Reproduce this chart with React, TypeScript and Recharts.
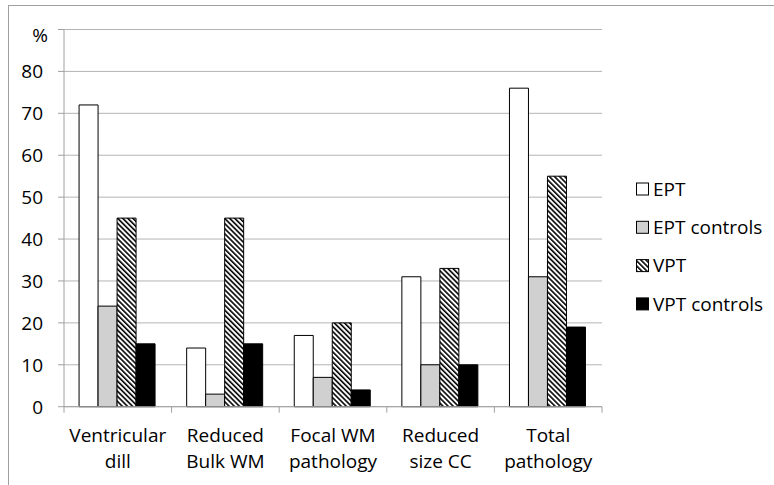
import React from "react";
import { BarChart, Bar, XAxis, YAxis, CartesianGrid, Legend } from "recharts";

const categories = [
  "Ventricular\ndill",
  "Reduced\nBulk WM",
  "Focal WM\npathology",
  "Reduced\nsize CC",
  "Total\npathology",
];
const eptValues = [72, 14, 17, 31, 76];
const eptControlValues = [24, 3, 7, 10, 31];
const vptValues = [45, 45, 20, 33, 55];
const vptControlValues = [15, 15, 4, 10, 19];
const yTicks = [0, 10, 20, 30, 40, 50, 60, 70, 80, 90];
const seriesKeys = ["ept", "eptControls", "vpt", "vptControls"];
const seriesNames = ["EPT", "EPT controls", "VPT", "VPT controls"];
const seriesFills = ["#ffffff", "#d0d0d0", "url(#vptStripes)", "#000000"];

const data = categories.map((c, i) => ({
  category: c,
  ept: eptValues[i],
  eptControls: eptControlValues[i],
  vpt: vptValues[i],
  vptControls: vptControlValues[i],
}));

const FONT = "'Open Sans', 'Liberation Sans', sans-serif";
const FONT_SIZE = 19;
const AXIS_COLOR = "#a0a0a0";
const GRID_COLOR = "#b4b4b4";

const XTick = (props: any) => {
  const { x, y, payload, index } = props;
  const half = payload && typeof payload.offset === "number" && payload.offset > 0 ? payload.offset : 53.8;
  const lines = String(payload.value).split("\n");
  return (
    <g>
      <line x1={x - half} x2={x - half} y1={y} y2={y + 6} stroke={AXIS_COLOR} strokeWidth={1} />
      {index === categories.length - 1 && (
        <line x1={x + half} x2={x + half} y1={y} y2={y + 6} stroke={AXIS_COLOR} strokeWidth={1} />
      )}
      {lines.map((l, i) => (
        <text
          key={i}
          x={x}
          y={y + 35.5 + i * 26}
          textAnchor="middle"
          fontFamily={FONT}
          fontSize={FONT_SIZE}
          fill="#000"
        >
          {l}
        </text>
      ))}
    </g>
  );
};

const YTick = (props: any) => {
  const { x, y, payload } = props;
  const isTop = payload.value === yTicks[yTicks.length - 1];
  return (
    <text
      x={isTop ? x + 5 : x}
      y={isTop ? y + 12.5 : y + 6.8}
      textAnchor="end"
      fontFamily={FONT}
      fontSize={FONT_SIZE}
      fill="#000"
    >
      {isTop ? "%" : payload.value}
    </text>
  );
};

const LegendContent = () => (
  <svg width={140} height={140} style={{ display: "block", overflow: "visible" }}>
    <defs>
      <pattern
        id="vptStripesLegend"
        patternUnits="userSpaceOnUse"
        width={3.6}
        height={3.6}
        patternTransform="rotate(-45)"
      >
        <rect x={0} y={0} width={3.6} height={3.6} fill="#fff" />
        <rect x={0} y={0} width={1.6} height={3.6} fill="#000" />
      </pattern>
    </defs>
    {seriesNames.map((name, i) => {
      const cy = 10 + i * 38.3;
      const fill = seriesFills[i].startsWith("url") ? "url(#vptStripesLegend)" : seriesFills[i];
      return (
        <g key={name}>
          <rect x={6.5} y={cy - 6} width={12} height={12} fill={fill} stroke="#000" strokeWidth={1} />
          <text x={23} y={cy + 6.8} fontFamily={FONT} fontSize={FONT_SIZE} fill="#000">
            {name}
          </text>
        </g>
      );
    })}
  </svg>
);

export default function App() {
  return (
    <div
      style={{
        position: "absolute",
        left: 0,
        top: 0,
        width: 774,
        height: 485,
        background: "#fff",
        overflow: "hidden",
      }}
    >
      <div
        style={{
          position: "absolute",
          left: 8,
          top: 5,
          width: 766,
          height: 480,
          borderTop: "1.5px solid #a0a0a0",
          borderLeft: "1.5px solid #a0a0a0",
          boxSizing: "border-box",
        }}
      />
      <div style={{ position: "absolute", left: 0, top: 0 }}>
        <BarChart
          width={774}
          height={485}
          data={data}
          margin={{ top: 29.5, right: 172, bottom: 8.3, left: 0 }}
          barCategoryGap="14%"
          barGap={0}
          style={{ fontFamily: FONT }}
        >
          <defs>
            <pattern
              id="vptStripes"
              patternUnits="userSpaceOnUse"
              width={3.6}
              height={3.6}
              patternTransform="rotate(-45)"
            >
              <rect x={0} y={0} width={3.6} height={3.6} fill="#fff" />
              <rect x={0} y={0} width={1.6} height={3.6} fill="#000" />
            </pattern>
          </defs>
          <CartesianGrid vertical={false} stroke={GRID_COLOR} strokeWidth={1} />
          <XAxis
            dataKey="category"
            height={70}
            interval={0}
            tickLine={false}
            tickSize={0}
            tickMargin={0}
            axisLine={{ stroke: AXIS_COLOR }}
            tick={<XTick />}
          />
          <YAxis
            width={64}
            domain={[0, 90]}
            ticks={yTicks}
            interval={0}
            tickSize={6}
            tickMargin={15}
            tickLine={{ stroke: AXIS_COLOR }}
            axisLine={{ stroke: AXIS_COLOR }}
            tick={<YTick />}
          />
          <Legend
            layout="vertical"
            align="center"
            verticalAlign="middle"
            width={140}
            wrapperStyle={{ left: 630, top: 178.5 }}
            content={<LegendContent />}
          />
          {seriesKeys.map((k, i) => (
            <Bar
              key={k}
              dataKey={k}
              name={seriesNames[i]}
              fill={seriesFills[i]}
              stroke="#000"
              strokeWidth={1}
              isAnimationActive={false}
            />
          ))}
        </BarChart>
      </div>
    </div>
  );
}
